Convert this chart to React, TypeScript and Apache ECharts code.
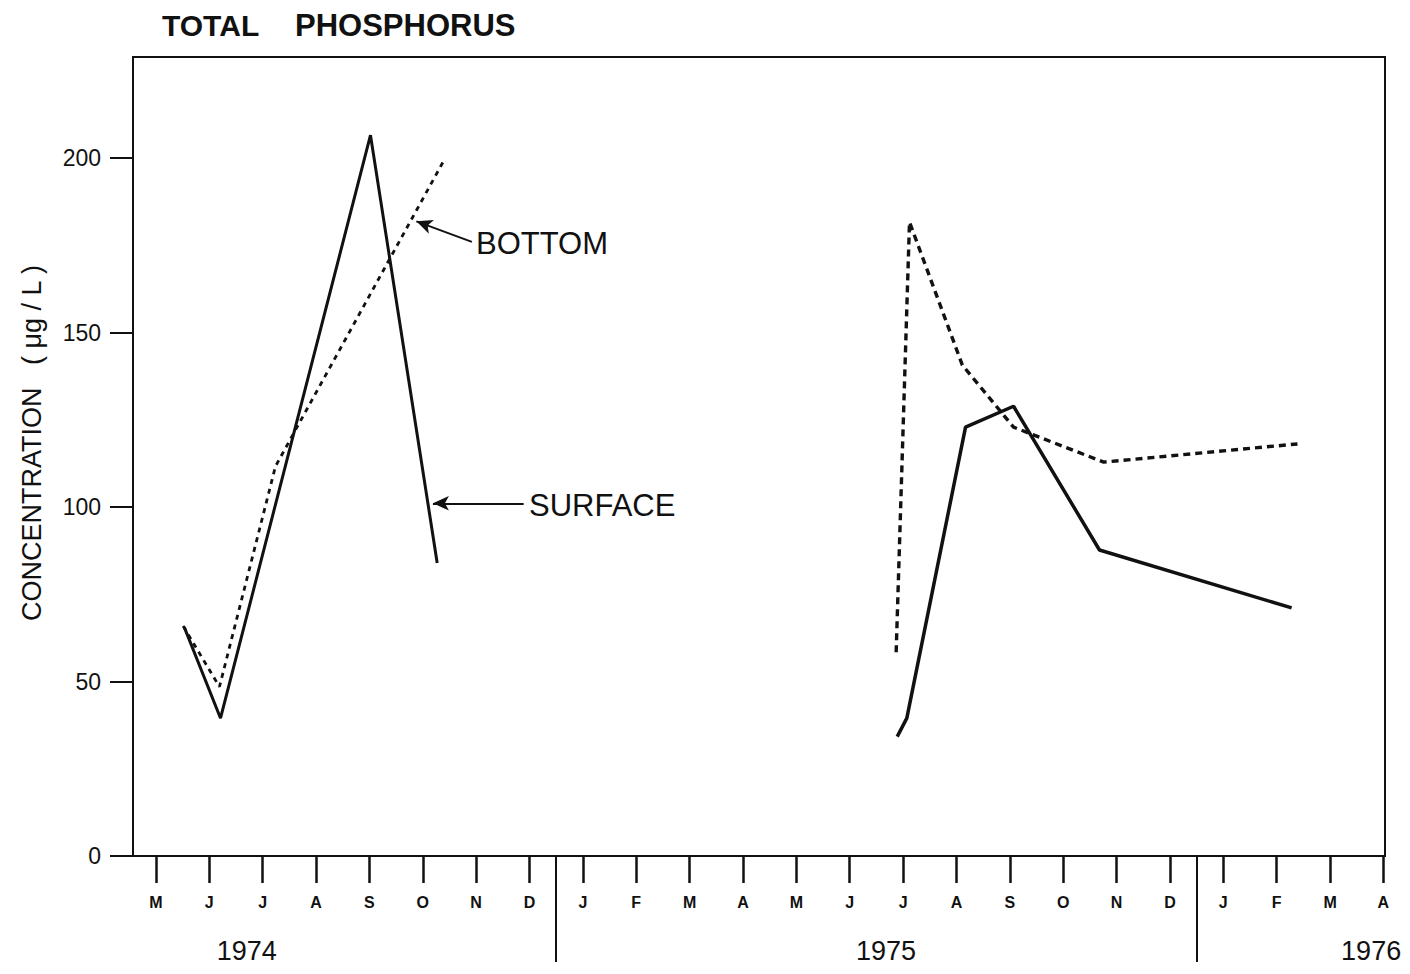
import React, { useEffect, useRef } from "react";
import * as echarts from "echarts";

// month index: May 1974 = 5 ... April 1976 = 28
const monthTicks = [5, 6, 7, 8, 9, 10, 11, 12, 13, 14, 15, 16, 17, 18, 19, 20, 21, 22, 23, 24, 25, 26, 27, 28];
const monthLabels = ["M", "J", "J", "A", "S", "O", "N", "D", "J", "F", "M", "A", "M", "J", "J", "A", "S", "O", "N", "D", "J", "F", "M", "A"];
const yearPositions = [6.7, 18.68, 27.77];
const yearLabels = ["1974", "1975", "1976"];
const yearDividers = [12.5, 24.5];
const yTicks = [0, 50, 100, 150, 200];

const surface1974 = [[5.53, 65.6], [6.21, 39.5], [9.02, 206.6], [10.27, 84.0]];
const bottom1974 = [[5.51, 65.9], [6.19, 48.5], [7.24, 111.7], [10.38, 198.9]];
const surface1975 = [[18.89, 34.2], [19.07, 39.5], [20.17, 122.9], [21.07, 128.9], [22.68, 87.7], [26.28, 71.1]];
const bottom1975 = [[18.87, 58.4], [19.12, 181.7], [20.11, 140.7], [21.07, 122.9], [22.76, 112.9], [26.39, 118.1]];

// annotation arrows: [tail, tip] in data coordinates
const bottomArrow = [[10.92, 176.0], [9.88, 181.9]];
const surfaceArrow = [[11.89, 101.1], [10.19, 101.1]];

const FONT = "Liberation Sans, Arial, Helvetica, sans-serif";
const INK = "#111";

function arrowMarkLine(pts: number[][]) {
  return {
    silent: true,
    symbol: ["none", "arrow"],
    symbolSize: [11, 16],
    label: { show: false },
    lineStyle: { color: INK, width: 2, type: "solid" },
    emphasis: { disabled: true },
    data: [[{ coord: pts[0] }, { coord: pts[1] }]],
  };
}

export default function App() {
  const ref = useRef<HTMLDivElement>(null);
  useEffect(() => {
    if (!ref.current) return;
    const chart = echarts.init(ref.current, null, { renderer: "svg" });
    const option: any = {
      animation: false,
      backgroundColor: "#fff",
      grid: {
        left: 133,
        right: 25,
        top: 57,
        bottom: 118,
        show: true,
        borderColor: INK,
        borderWidth: 2,
        backgroundColor: "transparent",
      },
      xAxis: [
        {
          type: "value",
          min: 4.57,
          max: 28.03,
          position: "bottom",
          axisLine: { show: true, onZero: false, lineStyle: { color: INK, width: 2 } },
          axisTick: {
            show: true,
            inside: false,
            length: 27,
            customValues: monthTicks,
            lineStyle: { color: INK, width: 2.5 },
          },
          axisLabel: {
            show: true,
            customValues: monthTicks,
            formatter: (v: number) => monthLabels[Math.round(v) - 5] ?? "",
            fontFamily: FONT,
            fontWeight: "bold",
            fontSize: 16,
            color: INK,
            margin: 38,
          },
          splitLine: { show: false },
        },
        {
          type: "value",
          min: 4.57,
          max: 28.03,
          position: "bottom",
          offset: 0,
          axisLine: { show: false },
          axisTick: {
            show: true,
            inside: false,
            length: 106,
            customValues: yearDividers,
            lineStyle: { color: INK, width: 2 },
          },
          axisLabel: {
            show: true,
            customValues: yearPositions,
            formatter: (v: number) => {
              const i = yearPositions.findIndex((p) => Math.abs(p - v) < 0.01);
              return i >= 0 ? yearLabels[i] : "";
            },
            fontFamily: FONT,
            fontSize: 27,
            color: INK,
            margin: 81,
          },
          splitLine: { show: false },
        },
      ],
      yAxis: {
        type: "value",
        min: 0,
        max: 229,
        axisLine: { show: true, lineStyle: { color: INK, width: 2 } },
        axisTick: {
          show: true,
          inside: false,
          length: 23,
          customValues: yTicks,
          lineStyle: { color: INK, width: 2 },
        },
        axisLabel: {
          show: true,
          customValues: yTicks,
          fontFamily: FONT,
          fontSize: 23,
          color: INK,
          margin: 32,
        },
        splitLine: { show: false },
      },
      series: [
        {
          name: "Surface 1974",
          type: "line",
          data: surface1974,
          symbol: "none",
          lineStyle: { color: INK, width: 3 },
          markLine: arrowMarkLine(surfaceArrow),
        },
        {
          name: "Bottom 1974",
          type: "line",
          data: bottom1974,
          symbol: "none",
          lineStyle: { color: INK, width: 2.8, type: [5, 5] },
          markLine: arrowMarkLine(bottomArrow),
        },
        {
          name: "Surface 1975",
          type: "line",
          data: surface1975,
          symbol: "none",
          lineStyle: { color: INK, width: 3.5 },
        },
        {
          name: "Bottom 1975",
          type: "line",
          data: bottom1975,
          symbol: "none",
          lineStyle: { color: INK, width: 3.4, type: [7, 5] },
        },
      ],
      graphic: [
        {
          type: "text",
          x: 162,
          y: 25.5,
          style: {
            text: "TOTAL",
            font: `bold 30px ${FONT}`,
            fill: INK,
            align: "left",
            verticalAlign: "middle",
          },
        },
        {
          type: "text",
          x: 295,
          y: 25.5,
          style: {
            text: "PHOSPHORUS",
            font: `bold 31px ${FONT}`,
            fill: INK,
            align: "left",
            verticalAlign: "middle",
          },
        },
        {
          type: "text",
          x: 32,
          y: 443,
          rotation: Math.PI / 2,
          style: {
            text: "CONCENTRATION   ( μg / L )",
            font: `27px ${FONT}`,
            fill: INK,
            align: "center",
            verticalAlign: "middle",
          },
        },
        {
          type: "text",
          x: 476,
          y: 243.5,
          style: {
            text: "BOTTOM",
            font: `31px ${FONT}`,
            fill: INK,
            align: "left",
            verticalAlign: "middle",
          },
        },
        {
          type: "text",
          x: 529,
          y: 505,
          style: {
            text: "SURFACE",
            font: `31px ${FONT}`,
            fill: INK,
            align: "left",
            verticalAlign: "middle",
          },
        },
      ],
    };
    chart.setOption(option);
    return () => chart.dispose();
  }, []);
  return (
    <div
      ref={ref}
      style={{ position: "fixed", left: 0, top: 0, width: 1410, height: 974, background: "#fff" }}
    />
  );
}
